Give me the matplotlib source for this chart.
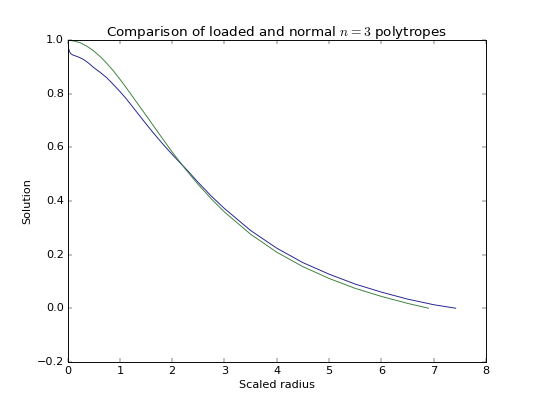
import matplotlib
matplotlib.use("Agg")
import matplotlib.pyplot as plt

# loaded polytrope
loaded_x = [0.0, 0.01, 0.02, 0.04, 0.06, 0.1, 0.2, 0.3, 0.4, 0.5, 0.625, 0.75,
            0.875, 1.0, 1.125, 1.25, 1.375, 1.5, 1.625, 1.75, 1.875, 2.0, 2.125,
            2.25, 2.5, 2.75, 3.0, 3.5, 4.0, 4.5, 5.0, 5.5, 6.0, 6.5, 7.0, 7.42]
loaded_y = [1.0, 0.985, 0.97, 0.957, 0.95, 0.945, 0.938, 0.929, 0.915, 0.898, 0.880,
            0.860, 0.835, 0.809, 0.781, 0.750, 0.719, 0.688, 0.658, 0.629, 0.601,
            0.574, 0.548, 0.523, 0.469, 0.418, 0.372, 0.29, 0.224, 0.17, 0.127,
            0.09, 0.06, 0.034, 0.013, 0.0]

# normal n=3 polytrope
normal_x = [0.0, 0.125, 0.25, 0.375, 0.5, 0.625, 0.75, 0.875, 1.0, 1.125, 1.25, 1.375,
            1.5, 1.75, 2.0, 2.25, 2.5, 2.75, 3.0, 3.5, 4.0, 4.5, 5.0, 5.5, 6.0,
            6.5, 6.9]
normal_y = [1.0, 0.997, 0.990, 0.977, 0.960, 0.939, 0.914, 0.886, 0.855, 0.822, 0.788,
            0.754, 0.720, 0.651, 0.583, 0.520, 0.461, 0.408, 0.359, 0.276, 0.209,
            0.155, 0.111, 0.074, 0.044, 0.018, 0.0]

plt.style.use("classic")
fig = plt.figure(figsize=(8, 402 / 67.5), dpi=67.5)
plt.plot(loaded_x, loaded_y, color="#202090")
plt.plot(normal_x, normal_y, color="#3a803a")
plt.xlim(0, 8)
plt.ylim(-0.2, 1.0)
plt.xlabel("Scaled radius")
plt.ylabel("Solution")
plt.title("Comparison of loaded and normal $n=3$ polytropes")
fig.savefig("out.png", dpi=67.5, facecolor="white")
